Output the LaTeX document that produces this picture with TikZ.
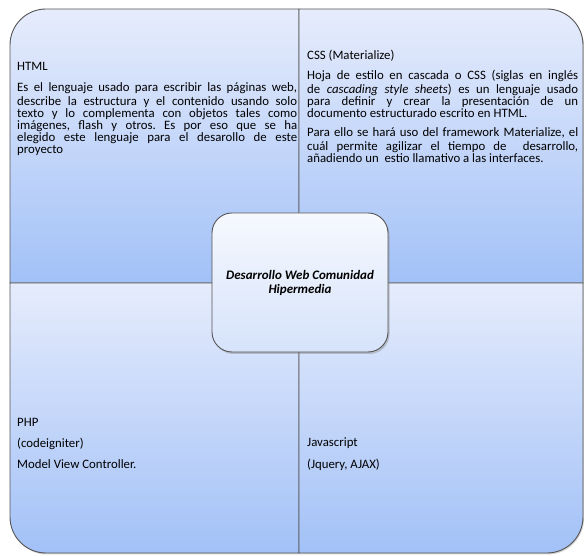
\documentclass[tikz,border=0pt]{standalone}
\usepackage{fontspec}
\setmainfont{Carlito}
\frenchspacing
\usetikzlibrary{shadows}
\definecolor{qtop}{RGB}{230,236,252}
\definecolor{qbot}{RGB}{162,193,247}
\definecolor{ctop}{RGB}{246,249,254}
\definecolor{cbot}{RGB}{214,227,251}
\definecolor{edgec}{RGB}{85,85,85}
\begin{document}
\begin{tikzpicture}[x=1pt,y=1pt,
  quad/.style={draw=edgec, line width=0.9pt, top color=qtop, bottom color=qbot,
    drop shadow={shadow xshift=1pt,shadow yshift=-1.5pt,opacity=0.35}},
  bodyfont/.style={font=\fontsize{12.8}{12}\selectfont\setlength{\parindent}{0pt}\frenchspacing},
  para/.style={bodyfont, anchor=north west, inner sep=0pt, text width=#1, align=justify},
  line/.style={bodyfont, anchor=base west, inner sep=0pt},
  centerbox/.style={draw=edgec, line width=0.9pt, rounded corners=20pt,
    top color=ctop, bottom color=cbot, minimum width=176pt, minimum height=139pt,
    inner sep=0pt, align=center, font=\fontsize{13}{14}\selectfont\bfseries\itshape,
    drop shadow={shadow xshift=1.5pt,shadow yshift=-2pt,opacity=0.4}}
]
\useasboundingbox (0,0) rectangle (584,556);
\def\R{36}
% quadrants
\path[quad] (10,273) -- (10,547-\R) arc[start angle=180,end angle=90,radius=\R] -- (299,547) -- (299,273) -- cycle;
\path[quad] (299,273) -- (299,547) -- (583-\R,547) arc[start angle=90,end angle=0,radius=\R] -- (583,273) -- cycle;
\path[quad] (10,273) -- (299,273) -- (299,3) -- (10+\R,3) arc[start angle=270,end angle=180,radius=\R] -- cycle;
\path[quad] (299,273) -- (583,273) -- (583,3+\R) arc[start angle=0,end angle=-90,radius=\R] -- (299,3) -- cycle;

% HTML
\node[line] (htmlt) at (17,485) {HTML};
\node[para=280pt] (htmlp) at (17,473.4) {%
\strut\makebox[280pt][s]{Es el lenguaje usado para escribir las páginas web,}\\
\makebox[280pt][s]{describe la estructura y el contenido usando solo}\\
\makebox[280pt][s]{texto y lo complementa con objetos tales como}\\
\makebox[280pt][s]{imágenes, flash y otros. Es por eso que se ha}\\
\makebox[280pt][s]{elegido este lenguaje para el desarollo de este}\\
proyecto};

% CSS
\node[line] (csst) at (307,496) {CSS (Materialize)};
\node[para=271pt] (cssp1) at (307,486.4) {%
\strut\makebox[271pt][s]{Hoja de estilo en cascada o CSS (siglas en inglés}\\
\makebox[271pt][s]{de \textit{cascading style sheets}) es un lenguaje usado}\\
\makebox[271pt][s]{para definir y crear la presentación de un}\\
documento estructurado escrito en HTML.};
\node[para=271pt] (cssp2) at (307,428.4) {%
\strut\makebox[271pt][s]{Para ello se hará uso del framework Materialize, el}\\
\makebox[271pt][s]{cuál permite agilizar el tiempo de \ desarrollo,}\\
añadiendo un \ estio llamativo a las interfaces.};

% PHP
\node[line] (php1) at (17,129) {PHP};
\node[line] (php2) at (17,108) {(codeigniter)};
\node[line] (php3) at (17,87) {Model View Controller.};

% Javascript
\node[line] (js1) at (307,109) {Javascript};
\node[line] (js2) at (307,87) {(Jquery, AJAX)};

% center
\node[centerbox] (center) at (300,273.5) {Desarrollo Web Comunidad\\Hipermedia};
\end{tikzpicture}
\end{document}
